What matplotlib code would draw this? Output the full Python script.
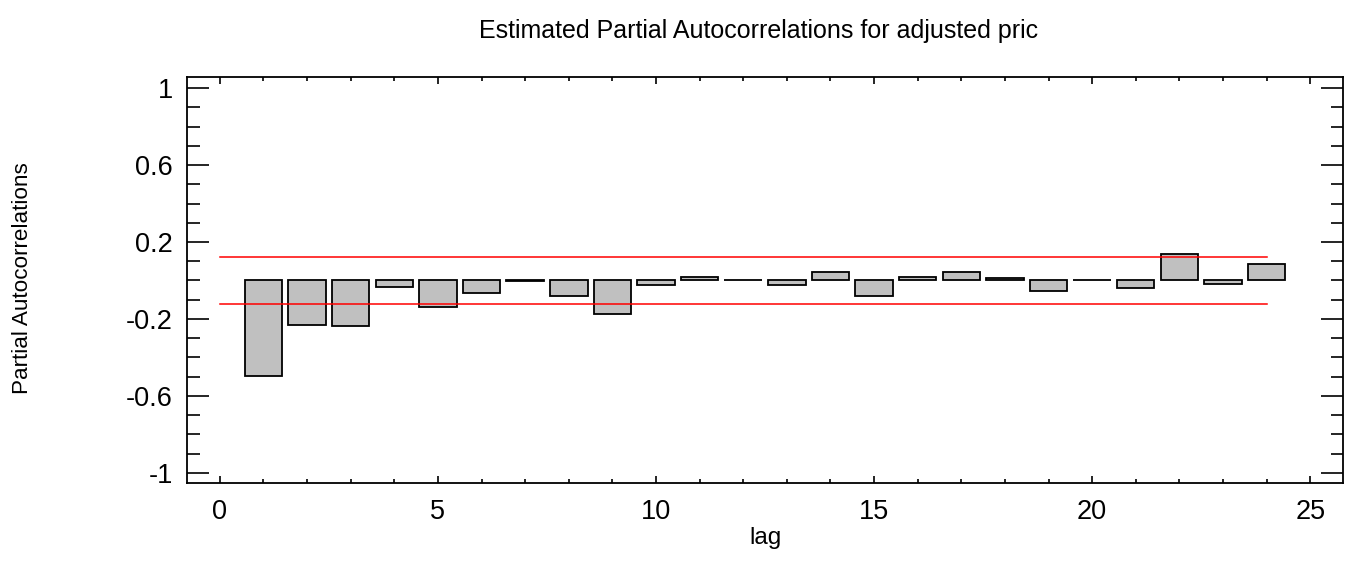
import numpy as np
import matplotlib
matplotlib.use('Agg')
import matplotlib.pyplot as plt
from matplotlib.ticker import MultipleLocator, FixedLocator

plt.rcParams['font.family'] = ['Liberation Sans', 'DejaVu Sans']
plt.rcParams['axes.unicode_minus'] = False

# partial autocorrelations
lags = list(range(1, 25))
pacf = [-0.497, -0.232, -0.238, -0.032, -0.138, -0.065, -0.002, -0.080,
        -0.174, -0.025, 0.020, 0.002, -0.025, 0.046, -0.082, 0.020,
        0.046, 0.012, -0.055, 0.000, -0.040, 0.138, -0.016, 0.084]
conf_limit = 0.12
y_ticks = [1, 0.6, 0.2, -0.2, -0.6, -1]
y_ticklabels = ['1', '0.6', '0.2', '-0.2', '-0.6', '-1']

fig = plt.figure(figsize=(13.52, 5.62), dpi=100)
ax = fig.add_axes([0.1381, 0.140, 0.8555, 0.7225])

ax.bar(lags, pacf, width=0.86, color='#c0c0c0', edgecolor='black', linewidth=1.3, zorder=2)
ax.plot([0, 24], [conf_limit, conf_limit], color='#ff0000', linewidth=1.1, zorder=3)
ax.plot([0, 24], [-conf_limit, -conf_limit], color='#ff0000', linewidth=1.1, zorder=3)

ax.set_xlim(-0.76, 25.76)
ax.set_ylim(-1.055, 1.057)

ax.xaxis.set_major_locator(MultipleLocator(5))
ax.xaxis.set_minor_locator(MultipleLocator(1))
ax.yaxis.set_major_locator(FixedLocator(y_ticks))
ax.set_yticklabels(y_ticklabels)
ax.yaxis.set_minor_locator(MultipleLocator(0.1))

ax.tick_params(axis='both', which='both', direction='in', top=True, right=True,
               labelsize=19.5, width=1.2)
ax.tick_params(axis='x', which='major', length=5, pad=11)
ax.tick_params(axis='x', which='minor', length=3)
ax.tick_params(axis='y', which='major', length=16, pad=10)
ax.tick_params(axis='y', which='minor', length=9)
for s in ax.spines.values():
    s.set_linewidth(1.3)

fig.text(0.561, 0.945, 'Estimated Partial Autocorrelations for adjusted pric',
         fontsize=18, ha='center', va='center')
fig.text(0.566, 0.043, 'lag', fontsize=17.5, ha='center', va='center')
fig.text(0.017, 0.505, 'Partial Autocorrelations', rotation=90, fontsize=16.2,
         ha='center', va='center')

fig.savefig('out.png', dpi=100)
